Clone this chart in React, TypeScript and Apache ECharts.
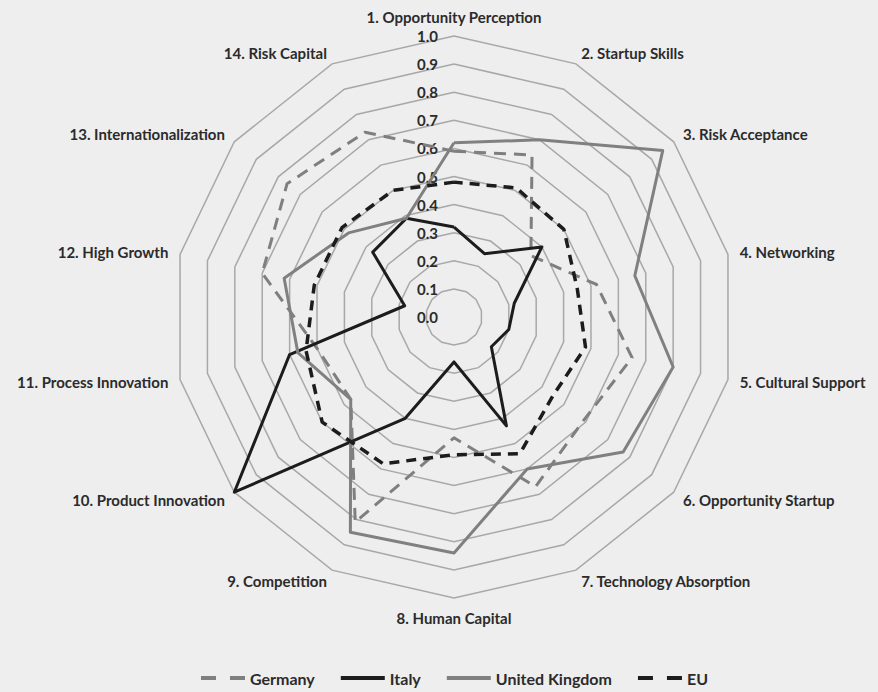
import React, { useEffect, useRef } from "react";
import * as echarts from "echarts";

const indicators = [
  "1. Opportunity Perception",
  "2. Startup Skills",
  "3. Risk Acceptance",
  "4. Networking",
  "5. Cultural Support",
  "6. Opportunity Startup",
  "7. Technology Absorption",
  "8. Human Capital",
  "9. Competition",
  "10. Product Innovation",
  "11. Process Innovation",
  "12. High Growth",
  "13. Internationalization",
  "14. Risk Capital",
];

const germany = [0.59, 0.64, 0.35, 0.52, 0.65, 0.59, 0.67, 0.43, 0.81, 0.47, 0.50, 0.70, 0.76, 0.73];
const italy = [0.32, 0.25, 0.40, 0.22, 0.20, 0.17, 0.43, 0.16, 0.40, 1.0, 0.60, 0.18, 0.37, 0.39];
const unitedKingdom = [0.62, 0.70, 0.95, 0.66, 0.80, 0.77, 0.60, 0.84, 0.85, 0.47, 0.57, 0.62, 0.48, 0.39];
const eu = [0.48, 0.51, 0.50, 0.45, 0.48, 0.45, 0.54, 0.49, 0.58, 0.60, 0.54, 0.51, 0.51, 0.50];

const seriesNames = ["Germany", "Italy", "United Kingdom", "EU"];
const axisMax = 1.0;
const splitCount = 10;

// ECharts places radar indicators counter-clockwise; the reference goes clockwise.
const order = [0, ...Array.from({ length: indicators.length - 1 }, (_, i) => indicators.length - 1 - i)];
const reorder = (arr: any[]) => order.map((i) => arr[i]);

const SOLID = "path://M0,0H44V4H0Z";
const DASHED = "path://M0,0H15V4H0Z M29,0H44V4H29Z";

export default function App() {
  const ref = useRef<HTMLDivElement>(null);
  useEffect(() => {
    if (!ref.current) return;
    const chart = echarts.init(ref.current, null, { renderer: "svg" });
    const font = "Lato, 'Open Sans', sans-serif";
    const labelColor = "#2b2b2b";
    chart.setOption({
      animation: false,
      backgroundColor: "#eeeeee",
      textStyle: { fontFamily: font },
      legend: {
        bottom: 1,
        left: 196,
        itemWidth: 44,
        itemHeight: 4,
        itemGap: 26,
        textStyle: { fontFamily: font, fontSize: 16, fontWeight: "bold", color: labelColor },
        data: [
          { name: "Germany", icon: DASHED },
          { name: "Italy", icon: SOLID },
          { name: "United Kingdom", icon: SOLID },
          { name: "EU", icon: DASHED },
        ],
      },
      radar: {
        center: [454, 317],
        radius: 281,
        startAngle: 90,
        shape: "polygon",
        splitNumber: splitCount,
        nameGap: 12,
        axisName: {
          color: labelColor,
          fontFamily: font,
          fontSize: 15,
          fontWeight: "bold",
        },
        axisLine: { show: false },
        axisTick: { show: false },
        splitArea: { show: false },
        splitLine: { lineStyle: { color: "#a8a8a8", width: 1.5 } },
        axisLabel: { show: false },
        indicator: reorder(indicators).map((name, i) => {
          const ind: any = { name, min: 0, max: axisMax };
          if (i === 0) {
            ind.axisLabel = {
              show: true,
              margin: 16,
              color: labelColor,
              fontFamily: font,
              fontSize: 15,
              fontWeight: "bold",
              formatter: (v: number) => v.toFixed(1),
            };
          }
          return ind;
        }),
      },
      series: [
        {
          type: "radar",
          symbol: "none",
          data: [
            {
              name: seriesNames[0],
              value: reorder(germany),
              lineStyle: { color: "#7f7f7f", width: 3, type: [12, 8] },
              itemStyle: { color: "#7f7f7f" },
            },
            {
              name: seriesNames[1],
              value: reorder(italy),
              lineStyle: { color: "#1c1c1c", width: 3, type: "solid" },
              itemStyle: { color: "#1c1c1c" },
            },
            {
              name: seriesNames[2],
              value: reorder(unitedKingdom),
              lineStyle: { color: "#808080", width: 3, type: "solid" },
              itemStyle: { color: "#808080" },
            },
            {
              name: seriesNames[3],
              value: reorder(eu),
              lineStyle: { color: "#1c1c1c", width: 3.5, type: [10, 7] },
              itemStyle: { color: "#1c1c1c" },
            },
          ],
        },
      ],
    });
    return () => chart.dispose();
  }, []);
  return (
    <div
      ref={ref}
      style={{ position: "fixed", left: 0, top: 0, width: 878, height: 692 }}
    />
  );
}
